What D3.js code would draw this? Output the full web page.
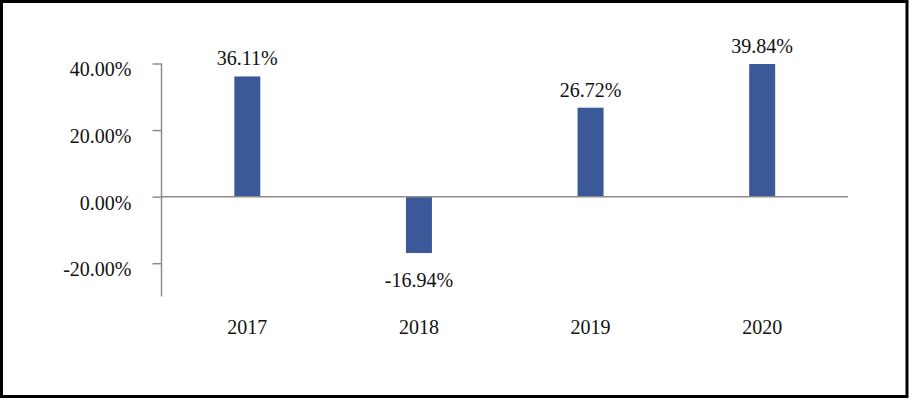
<!DOCTYPE html>
<html>
<head>
<meta charset="utf-8">
<script src="https://cdn.jsdelivr.net/npm/d3@7"></script>
<style>
  html, body { margin: 0; padding: 0; background: #fff; }
  svg { display: block; }
  text { font-family: "Liberation Serif", "DejaVu Serif", serif; fill: #111; }
</style>
</head>
<body>
<svg id="chart" width="912" height="400"></svg>
<script>
const categories = ["2017", "2018", "2019", "2020"];
const values = [36.11, -16.94, 26.72, 39.84];
const valueLabels = ["36.11%", "-16.94%", "26.72%", "39.84%"];
const yTicks = [-20, 0, 20, 40];
const yTickLabels = ["-20.00%", "0.00%", "20.00%", "40.00%"];

(function () {
const svg = d3.select("#chart");
const W = 912, H = 400;

// frame
svg.append("rect")
  .attr("x", 1.5).attr("y", 1.5)
  .attr("width", W - 6.5).attr("height", H - 5)
  .attr("fill", "#fff").attr("stroke", "#000").attr("stroke-width", 3);

const pLeft = 161.5, pRight = 848, pTop = 63.5, pBottom = 296.5;

const y = d3.scaleLinear().domain([-30, 40]).range([pBottom, pTop]);
const pad = 1 - 26 / ((pRight - pLeft) / categories.length);
const x = d3.scaleBand().domain(categories).range([pLeft, pRight])
  .paddingInner(pad).paddingOuter(pad / 2);

const axisColor = "#8c8c8c";
const fs = 20;

// y axis
const yAxis = d3.axisLeft(y).tickValues(yTicks)
  .tickFormat((d) => yTickLabels[yTicks.indexOf(d)])
  .tickSize(9).tickPadding(21);
const gy = svg.append("g").attr("transform", `translate(${pLeft},0)`).call(yAxis);
gy.select(".domain").attr("stroke", axisColor).attr("stroke-width", 1.5)
  .attr("d", `M0,${pTop}V${pBottom}`);
gy.selectAll(".tick line").attr("stroke", axisColor).attr("stroke-width", 1.5);
gy.selectAll(".tick text").attr("font-size", fs).attr("dy", "0.62em")
  .style("font-family", '"Liberation Serif", serif').attr("fill", "#111");

// bars
svg.append("g").selectAll("rect").data(categories).join("rect")
  .attr("x", (d) => x(d))
  .attr("width", x.bandwidth())
  .attr("y", (d, i) => y(Math.max(0, values[i])))
  .attr("height", (d, i) => Math.abs(y(values[i]) - y(0)))
  .attr("fill", "#3b5998");

// zero line (x axis)
const xAxis = d3.axisBottom(x).tickSize(0).tickFormat("");
const gx = svg.append("g").attr("transform", `translate(0,${y(0)})`).call(xAxis);
gx.select(".domain").attr("stroke", axisColor).attr("stroke-width", 1.5)
  .attr("d", `M${pLeft},0H${pRight}`);

// category labels
svg.append("g").selectAll("text").data(categories).join("text")
  .attr("x", (d) => x(d) + x.bandwidth() / 2)
  .attr("y", 334)
  .attr("text-anchor", "middle")
  .attr("font-size", fs)
  .text((d) => d);

// value labels
svg.append("g").selectAll("text").data(categories).join("text")
  .attr("x", (d) => x(d) + x.bandwidth() / 2)
  .attr("y", (d, i) => values[i] >= 0 ? y(values[i]) - 11 : y(values[i]) + 34)
  .attr("text-anchor", "middle")
  .attr("font-size", fs)
  .text((d, i) => valueLabels[i]);
})();
</script>
</body>
</html>
